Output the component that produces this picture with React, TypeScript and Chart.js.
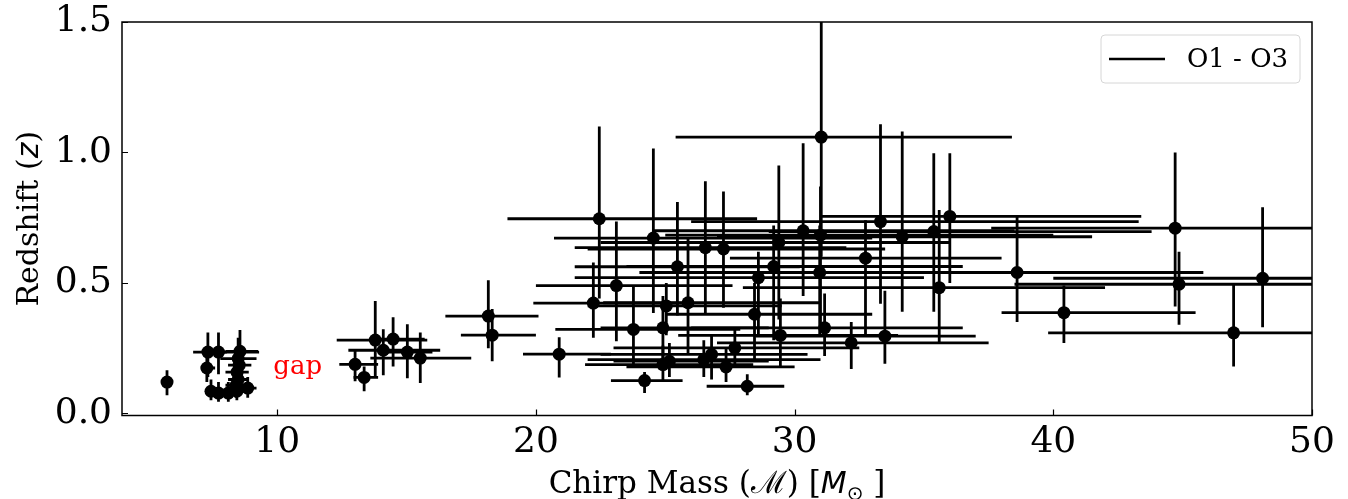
import React, { useEffect, useRef } from 'react';
import { Chart, registerables } from 'chart.js';

Chart.register(...registerables);

// Chirp mass (solar masses) and its lower / upper bounds
const chirpMass = [5.74, 7.32, 7.73, 7.28, 7.44, 7.73, 8.11, 8.44, 8.86, 8.56, 8.49, 8.53, 8.45, 8.49, 8.41,
  13.01, 13.36, 13.79, 14.1, 14.48, 15.03, 15.53, 18.16, 18.31, 20.9,
  22.45, 22.22, 23.11, 24.54, 23.77, 24.2, 24.91, 25.04, 25.47, 25.88, 26.55, 27.25, 24.91, 25.16,
  28.6, 28.45, 29.19, 29.39, 30.33, 31.0, 30.97, 31.03, 29.45, 31.16, 32.19, 27.69, 26.79, 26.49, 27.35, 28.17,
  33.32, 34.16, 35.38, 36.0, 32.74, 35.59, 38.6, 40.41, 44.71, 44.86, 48.09, 46.97, 33.49];
const massLow = [5.55, 6.75, 7.45, 7.05, 7.3, 7.55, 7.95, 8.25, 8.6, 8.0, 7.8, 8.1, 8.0, 8.1, 8.0,
  12.4, 12.95, 12.3, 12.75, 13.6, 14.2, 13.6, 16.5, 17.1, 19.5,
  18.9, 19.9, 20.0, 20.7, 20.75, 22.9, 22.5, 22.0, 21.5, 22.6, 21.5, 22.0, 21.9, 23.0,
  21.5, 25.0, 23.5, 22.5, 24.5, 25.0, 24.0, 25.4, 25.5, 26.0, 27.0, 23.0, 22.5, 22.0, 23.5, 26.6,
  26.0, 27.0, 29.0, 31.0, 27.5, 28.0, 31.0, 38.0, 37.6, 38.5, 40.0, 39.8, 28.5];
const massHigh = [5.95, 9.3, 8.05, 7.6, 7.7, 7.95, 8.3, 8.7, 9.2, 9.26, 9.2, 9.0, 8.9, 8.9, 8.8,
  13.9, 13.9, 15.8, 16.3, 15.7, 16.0, 17.5, 20.1, 20.0, 22.9,
  28.55, 26.0, 27.6, 33.0, 27.9, 25.67, 29.0, 29.5, 30.2, 31.0, 32.0, 33.5, 28.4, 29.0,
  35.0, 33.0, 36.5, 36.0, 38.5, 40.0, 38.0, 38.4, 34.0, 36.5, 37.5, 32.5, 30.5, 31.0, 30.0, 29.6,
  43.3, 41.5, 43.8, 43.4, 38.0, 42.0, 45.8, 45.5, 52, 52, 52, 52, 37.0];

// Redshift and its lower / upper bounds
const redshift = [0.12, 0.235, 0.235, 0.174, 0.085, 0.078, 0.078, 0.085, 0.097, 0.238, 0.21, 0.185, 0.158, 0.13, 0.108,
  0.188, 0.138, 0.281, 0.242, 0.285, 0.235, 0.212, 0.373, 0.30, 0.227,
  0.746, 0.423, 0.49, 0.672, 0.322, 0.126, 0.328, 0.412, 0.562, 0.424, 0.635, 0.63, 0.187, 0.2,
  0.52, 0.38, 0.563, 0.655, 0.70, 0.683, 0.54, 1.059, 0.299, 0.328, 0.27, 0.251, 0.226, 0.206, 0.178, 0.104,
  0.735, 0.677, 0.697, 0.755, 0.595, 0.482, 0.54, 0.386, 0.71, 0.495, 0.518, 0.309, 0.296];
const zLow = [0.07, 0.14, 0.15, 0.12, 0.05, 0.045, 0.045, 0.05, 0.06, 0.16, 0.14, 0.12, 0.1, 0.08, 0.06,
  0.123, 0.085, 0.138, 0.146, 0.18, 0.135, 0.117, 0.25, 0.2, 0.138,
  0.44, 0.29, 0.277, 0.385, 0.18, 0.078, 0.21, 0.3, 0.375, 0.23, 0.385, 0.405, 0.12, 0.14,
  0.30, 0.2, 0.28, 0.36, 0.45, 0.34, 0.3, 0.6, 0.18, 0.22, 0.17, 0.18, 0.13, 0.14, 0.12, 0.07,
  0.42, 0.39, 0.39, 0.5, 0.3, 0.27, 0.35, 0.27, 0.41, 0.34, 0.33, 0.18, 0.19];
const zHigh = [0.165, 0.31, 0.31, 0.23, 0.13, 0.12, 0.12, 0.15, 0.14, 0.32, 0.29, 0.26, 0.22, 0.19, 0.16,
  0.246, 0.18, 0.431, 0.323, 0.369, 0.342, 0.31, 0.51, 0.4, 0.292,
  1.1, 0.578, 0.735, 1.015, 0.488, 0.159, 0.45, 0.5, 0.81, 0.67, 0.89, 0.85, 0.26, 0.27,
  0.62, 0.5, 0.72, 0.95, 1.035, 0.87, 0.72, 1.5, 0.44, 0.46, 0.35, 0.32, 0.3, 0.28, 0.25, 0.15,
  1.108, 1.08, 0.997, 0.997, 0.74, 0.78, 0.76, 0.49, 1.0, 0.62, 0.79, 0.5, 0.47];

const xTicks = [10, 20, 30, 40, 50];
const yTicks = [0, 0.5, 1.0, 1.5];
const legendLabel = 'O1 - O3';
const gapLabel = 'gap';
const gapPosition = [9.85, 0.175];

const SERIF = "'DejaVu Serif', serif";
const SANS = "'DejaVu Sans', sans-serif";

type Seg = { text: string; font: string; dy?: number };

// x-axis title: Chirp Mass (ℳ) [M⊙]
const xTitleSegments: Seg[] = [
  { text: 'Chirp Mass (', font: `31px ${SERIF}` },
  { text: 'ℳ', font: `31px ${SERIF}` },
  { text: ') [', font: `31px ${SERIF}` },
  { text: 'M', font: `italic 30px ${SANS}` },
  { text: '⊙', font: `20px ${SANS}`, dy: 7 },
  { text: ' ]', font: `31px ${SERIF}` },
];
// y-axis title: Redshift (z)
const yTitleSegments: Seg[] = [
  { text: 'Redshift (', font: `30px ${SERIF}` },
  { text: 'z', font: `italic 30px ${SANS}` },
  { text: ')', font: `30px ${SERIF}` },
];

function drawSegments(ctx: CanvasRenderingContext2D, segs: Seg[], cx: number, cy: number) {
  let total = 0;
  for (const s of segs) {
    ctx.font = s.font;
    total += ctx.measureText(s.text).width;
  }
  let xPos = cx - total / 2;
  ctx.textAlign = 'left';
  ctx.textBaseline = 'alphabetic';
  for (const s of segs) {
    ctx.font = s.font;
    ctx.fillText(s.text, xPos, cy + (s.dy || 0));
    xPos += ctx.measureText(s.text).width;
  }
}

const overlayPlugin = {
  id: 'overlay',
  beforeDatasetsDraw(chart: any) {
    const { ctx, chartArea, scales } = chart;
    const x = scales.x;
    const y = scales.y;
    ctx.save();
    ctx.beginPath();
    ctx.rect(chartArea.left, chartArea.top, chartArea.right - chartArea.left, chartArea.bottom - chartArea.top);
    ctx.clip();
    ctx.strokeStyle = '#000';
    ctx.lineWidth = 2.8;
    ctx.lineCap = 'butt';
    for (let i = 0; i < chirpMass.length; i++) {
      const px = x.getPixelForValue(chirpMass[i]);
      const py = y.getPixelForValue(redshift[i]);
      ctx.beginPath();
      ctx.moveTo(x.getPixelForValue(massLow[i]), py);
      ctx.lineTo(x.getPixelForValue(massHigh[i]), py);
      ctx.moveTo(px, y.getPixelForValue(zLow[i]));
      ctx.lineTo(px, y.getPixelForValue(zHigh[i]));
      ctx.stroke();
    }
    ctx.restore();
  },
  afterDraw(chart: any) {
    const { ctx, chartArea, scales } = chart;
    const x = scales.x;
    const y = scales.y;
    ctx.save();
    // gap label
    ctx.fillStyle = '#ff0000';
    ctx.font = `26px ${SERIF}`;
    ctx.textAlign = 'left';
    ctx.textBaseline = 'middle';
    ctx.fillText(gapLabel, x.getPixelForValue(gapPosition[0]), y.getPixelForValue(gapPosition[1]));

    // axis titles
    ctx.fillStyle = '#000';
    drawSegments(ctx, xTitleSegments, (chartArea.left + chartArea.right) / 2, 493);
    ctx.save();
    ctx.translate(38, (chartArea.top + chartArea.bottom) / 2);
    ctx.rotate(-Math.PI / 2);
    drawSegments(ctx, yTitleSegments, 0, 0);
    ctx.restore();

    // frame
    ctx.strokeStyle = '#000';
    ctx.lineWidth = 1.5;
    ctx.strokeRect(chartArea.left, chartArea.top, chartArea.right - chartArea.left, chartArea.bottom - chartArea.top);

    // inward ticks
    ctx.lineWidth = 1.2;
    ctx.beginPath();
    for (const v of xTicks) {
      const p = Math.round(x.getPixelForValue(v)) + 0.5;
      ctx.moveTo(p, chartArea.bottom);
      ctx.lineTo(p, chartArea.bottom - 6);
    }
    for (const v of yTicks) {
      const p = Math.round(y.getPixelForValue(v)) + 0.5;
      ctx.moveTo(chartArea.left, p);
      ctx.lineTo(chartArea.left + 6, p);
    }
    ctx.stroke();

    // legend
    const bw = 199;
    const bh = 48;
    const bx = chartArea.right - 12 - bw;
    const by = chartArea.top + 13;
    ctx.beginPath();
    const r = 4;
    ctx.moveTo(bx + r, by);
    ctx.lineTo(bx + bw - r, by);
    ctx.quadraticCurveTo(bx + bw, by, bx + bw, by + r);
    ctx.lineTo(bx + bw, by + bh - r);
    ctx.quadraticCurveTo(bx + bw, by + bh, bx + bw - r, by + bh);
    ctx.lineTo(bx + r, by + bh);
    ctx.quadraticCurveTo(bx, by + bh, bx, by + bh - r);
    ctx.lineTo(bx, by + r);
    ctx.quadraticCurveTo(bx, by, bx + r, by);
    ctx.closePath();
    ctx.fillStyle = 'rgba(255,255,255,0.8)';
    ctx.fill();
    ctx.strokeStyle = '#d6d6d6';
    ctx.lineWidth = 1;
    ctx.stroke();
    ctx.strokeStyle = '#000';
    ctx.lineWidth = 2.5;
    ctx.beginPath();
    ctx.moveTo(bx + 8, by + bh / 2);
    ctx.lineTo(bx + 64, by + bh / 2);
    ctx.stroke();
    ctx.fillStyle = '#000';
    ctx.font = `26px ${SERIF}`;
    ctx.textAlign = 'left';
    ctx.textBaseline = 'middle';
    ctx.fillText(legendLabel, bx + 86, by + bh / 2 + 1);
    ctx.restore();
  },
};

export default function App() {
  const canvasRef = useRef<HTMLCanvasElement | null>(null);

  useEffect(() => {
    if (!canvasRef.current) return;
    const chart = new Chart(canvasRef.current, {
      type: 'scatter',
      data: {
        datasets: [
          {
            label: legendLabel,
            data: chirpMass.map((m, i) => ({ x: m, y: redshift[i] })),
            pointRadius: 6.5,
            pointHoverRadius: 6.5,
            backgroundColor: '#000',
            borderWidth: 0,
          },
        ],
      },
      options: {
        responsive: false,
        devicePixelRatio: 1,
        animation: false,
        events: [],
        layout: { padding: { left: 0, right: 36, top: 22, bottom: 0 } },
        plugins: {
          legend: { display: false },
          tooltip: { enabled: false },
        },
        scales: {
          x: {
            type: 'linear',
            min: 4,
            max: 50,
            grid: { display: false },
            border: { display: false },
            afterBuildTicks: (scale: any) => {
              scale.ticks = xTicks.map((v) => ({ value: v }));
            },
            afterFit: (scale: any) => {
              scale.height = 83.5;
              scale.paddingLeft = 0;
              scale.paddingRight = 0;
            },
            ticks: {
              color: '#000',
              font: { family: SERIF, size: 36 },
              padding: -2,
              maxRotation: 0,
              callback: (v: any) => String(v),
            },
            title: { display: false },
          },
          y: {
            type: 'linear',
            min: -0.008,
            max: 1.5,
            grid: { display: false },
            border: { display: false },
            afterBuildTicks: (scale: any) => {
              scale.ticks = yTicks.map((v) => ({ value: v }));
            },
            afterFit: (scale: any) => {
              scale.width = 122;
              scale.paddingTop = 0;
              scale.paddingBottom = 0;
            },
            ticks: {
              color: '#000',
              font: { family: SERIF, size: 36 },
              padding: 2,
              callback: (v: any) => Number(v).toFixed(1),
            },
            title: { display: false },
          },
        },
      },
      plugins: [overlayPlugin],
    });
    return () => chart.destroy();
  }, []);

  return (
    <div style={{ position: 'absolute', left: 0, top: 0, width: 1348, height: 499, background: '#fff' }}>
      <canvas ref={canvasRef} width={1348} height={499} />
    </div>
  );
}
